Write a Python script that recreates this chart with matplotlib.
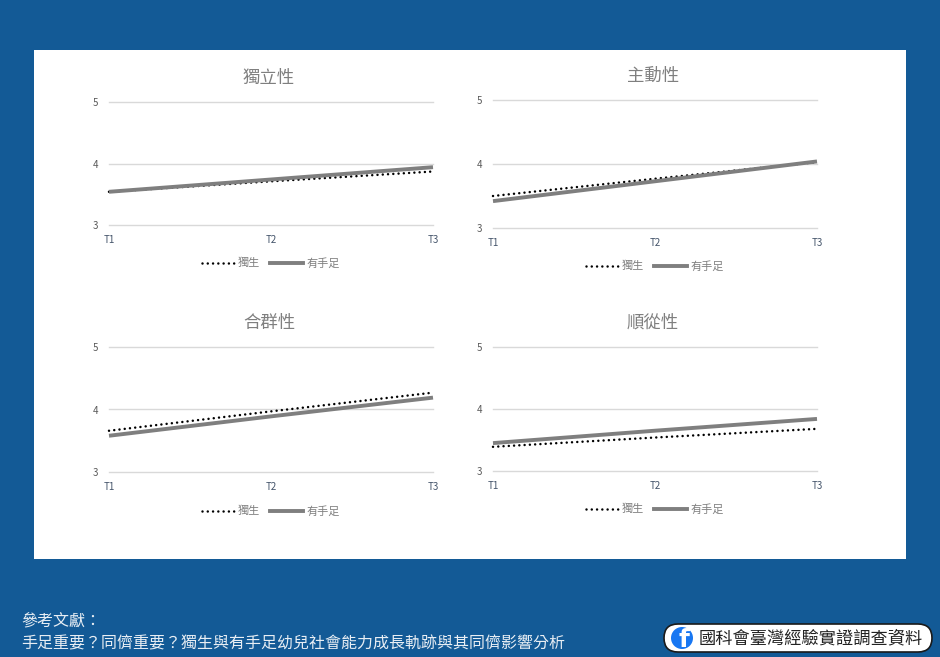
import matplotlib
matplotlib.use('Agg')
import matplotlib.pyplot as plt
from matplotlib.lines import Line2D
from matplotlib.patches import Rectangle, FancyBboxPatch, Circle

plt.rcParams['font.family'] = ['Noto Sans CJK TC', 'DejaVu Sans']

W, H = 940, 657
BLUE = '#135a96'

#資料
waves = ['T1', 'T2', 'T3']
y_ticks = [3, 4, 5]
titles = ['獨立性', '主動性', '合群性', '順從性']
only_child = [[3.54, 3.71, 3.87],
              [3.50, 3.77, 4.03],
              [3.66, 3.97, 4.27],
              [3.39, 3.54, 3.68]]
siblings = [[3.54, 3.74, 3.94],
            [3.42, 3.73, 4.04],
            [3.58, 3.89, 4.19],
            [3.45, 3.65, 3.84]]
series_names = ['獨生', '有手足']
ref_head = '參考文獻：'
ref_body = '手足重要？同儕重要？獨生與有手足幼兒社會能力成長軌跡與其同儕影響分析'
badge = '國科會臺灣經驗實證調查資料'

#版面 (left, right, top, bottom, title y, legend y) 都是像素
panels = [(109, 433, 102, 225, 77, 262),
          (493, 817, 100, 228, 75, 265),
          (109, 433, 347, 472, 322, 510),
          (493, 817, 347, 471, 322, 508)]

DOTS = (0, (0.01, 2.1))


def fx(x):
    return x / W


def fy(y):
    return 1 - y / H


fig = plt.figure(figsize=(W / 100, H / 100), dpi=100, facecolor=BLUE)

#白底 (zorder要比軸低,不然會蓋住)
fig.patches.append(Rectangle((fx(34), fy(559)), 872 / W, 509 / H,
                             transform=fig.transFigure, fc='white', ec='none',
                             zorder=-1))

for i, (l, r, t, b, ty, ly) in enumerate(panels):
    ax = fig.add_axes([fx(l), fy(b), (r - l) / W, (b - t) / H])
    ax.patch.set_alpha(0)
    ax.plot(waves, only_child[i], color='black', lw=1.8, ls=DOTS,
            dash_capstyle='round', clip_on=False, zorder=3)
    ax.plot(waves, siblings[i], color='#7f7f7f', lw=2.8,
            clip_on=False, zorder=4, solid_capstyle='butt')
    ax.set_xlim(0, 2)
    ax.set_ylim(3, 5)
    ax.set_yticks(y_ticks)
    ax.grid(axis='y', color='#d9d9d9', lw=1, clip_on=False)
    ax.set_axisbelow(True)
    for s in ax.spines.values():
        s.set_visible(False)
    ax.tick_params(length=0)
    ax.tick_params(axis='x', pad=7.5, labelsize=7, labelcolor='#44546a')
    ax.tick_params(axis='y', pad=8, labelsize=7, labelcolor='#595959')
    for lab in ax.get_xticklabels() + ax.get_yticklabels():
        lab.set_fontweight('medium')

    fig.text(fx((l + r) / 2 - 2), fy(ty + 1), titles[i], fontsize=12.5, color='#7f7f7f',
             ha='center', va='center')

    handles = [Line2D([], [], color='black', lw=1.8, ls=DOTS, dash_capstyle='round'),
               Line2D([], [], color='#7f7f7f', lw=2.8)]
    ax.legend(handles, series_names, loc='center',
              bbox_to_anchor=(fx((l + r) / 2), fy(ly + 1)),
              bbox_transform=fig.transFigure, ncol=2, frameon=False,
              fontsize=8, labelcolor='#7f7f7f', handlelength=2.9,
              handletextpad=0.35, columnspacing=0.9, borderpad=0)

#參考文獻
fig.text(fx(21), fy(622), ref_head, fontsize=11.5, color='#e8eef4', va='center')
fig.text(fx(21), fy(644), ref_body, fontsize=11.5, color='#e8eef4', va='center')

#右下角標籤 (用像素座標的覆蓋軸)
over = fig.add_axes([0, 0, 1, 1])
over.set_xlim(0, W)
over.set_ylim(H, 0)
over.axis('off')
over.add_patch(FancyBboxPatch((664, 624), 268, 28,
                              boxstyle='round,pad=0,rounding_size=14',
                              fc='white', ec='#1a1a1a', lw=1.2))
logo = Circle((682, 638), 11, fc='#1877f2', ec='none')
over.add_patch(logo)
f_mark = over.text(684, 640, 'f', fontsize=18, fontweight='bold', color='white',
                   family='DejaVu Sans', ha='center', va='center')
f_mark.set_clip_path(logo)
over.text(699, 638, badge, fontsize=12.4, color='#222222', va='center')

fig.savefig('out.png', dpi=100, facecolor=BLUE)
